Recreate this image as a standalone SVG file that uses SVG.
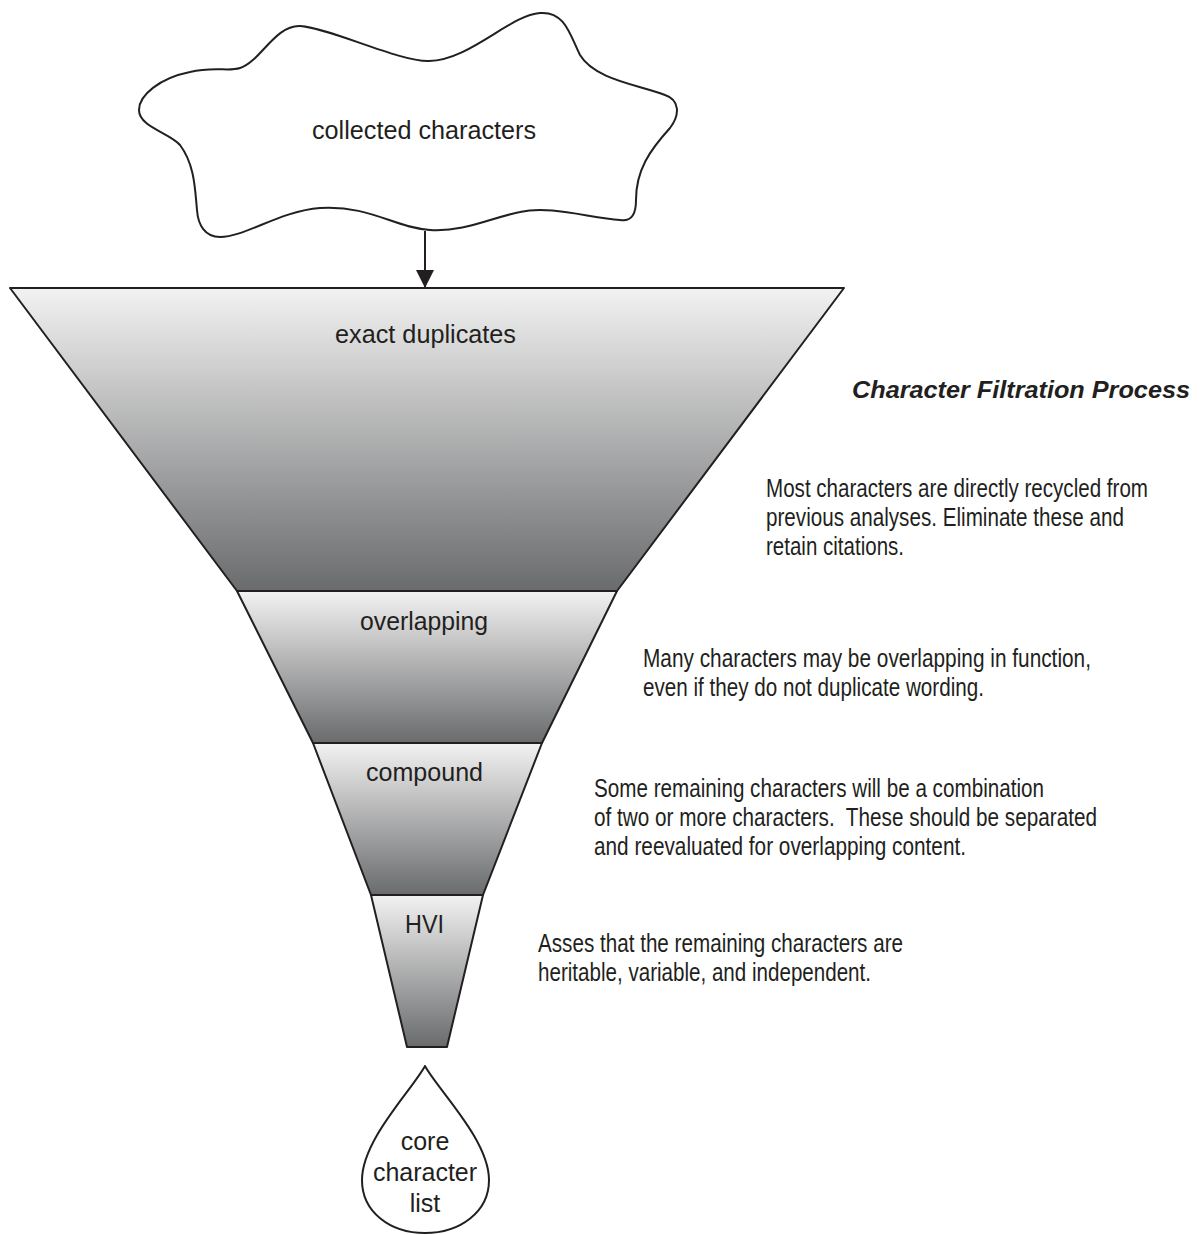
<svg xmlns="http://www.w3.org/2000/svg" width="1201" height="1235" viewBox="0 0 1201 1235">
  <style>
    .shape { stroke: #231f20; stroke-width: 2; stroke-linejoin: round; }
    .lbl { font-family: "Liberation Sans", Arial, sans-serif; font-size: 25px; fill: #231f20; text-anchor: middle; }
    .note { font-family: "Liberation Sans", Arial, sans-serif; font-size: 21px; fill: #231f20; }
    .title { font-family: "Liberation Sans", Arial, sans-serif; font-size: 24px; font-weight: bold; font-style: italic; fill: #231f20; }
  </style>
  <defs>
    <linearGradient id="g" x1="0" y1="0" x2="0" y2="1">
      <stop offset="0" stop-color="#f2f2f2"/>
      <stop offset="1" stop-color="#6a6b6d"/>
    </linearGradient>
    <marker id="arrow" markerUnits="userSpaceOnUse" markerWidth="18" markerHeight="18" refX="18" refY="9" orient="auto">
      <path d="M0,0 L18,9 L0,18 Z" fill="#231f20"/>
    </marker>
  </defs>
  <rect width="1201" height="1235" fill="#ffffff"/>

  <g id="cloud">
    <path class="shape" fill="#ffffff" d="M139,110 C139,95 160,78 190,72 C215,66 228,72 240,68 C260,62 275,25 300,26 C330,28 400,62 429,61 C470,60 510,15 540,13 C565,11 570,35 580,55 C595,80 640,85 665,95 C680,100 680,115 670,128 C650,150 636,170 636,200 C636,212 633,222 620,220 C590,218 550,205 520,212 C490,218 465,232 430,230 C395,228 370,205 320,208 C280,211 245,237 220,237 C205,237 198,225 197,210 C195,190 195,165 180,145 C170,133 139,127 139,110 Z"/>
    <text class="lbl" x="424" y="139" textLength="224" lengthAdjust="spacingAndGlyphs">collected characters</text>
  </g>

  <g id="connectors">
    <line x1="425" y1="231" x2="425" y2="288" stroke="#231f20" stroke-width="2" marker-end="url(#arrow)"/>
  </g>

  <g id="exact-duplicates">
    <polygon class="shape" fill="url(#g)" points="10,288 844,288 617,591 237,591"/>
    <text class="lbl" x="425.5" y="343" textLength="181" lengthAdjust="spacingAndGlyphs">exact duplicates</text>
  </g>
  <g id="overlapping">
    <polygon class="shape" fill="url(#g)" points="237,591 617,591 542,743 313,743"/>
    <text class="lbl" x="424" y="630" textLength="128" lengthAdjust="spacingAndGlyphs">overlapping</text>
  </g>
  <g id="compound">
    <polygon class="shape" fill="url(#g)" points="313,743 542,743 483,895 371,895"/>
    <text class="lbl" x="424.5" y="781" textLength="117" lengthAdjust="spacingAndGlyphs">compound</text>
  </g>
  <g id="hvi">
    <polygon class="shape" fill="url(#g)" points="371,895 483,895 447,1047 407,1047"/>
    <text class="lbl" x="424.5" y="933" textLength="39" lengthAdjust="spacingAndGlyphs">HVI</text>
  </g>

  <g id="core-character-list">
    <path class="shape" fill="#ffffff" d="M425,1066 C412,1090 362,1140 362,1180 C362,1212 390,1233 425,1233 C460,1233 489,1212 489,1180 C489,1140 438,1090 425,1066 Z"/>
    <text class="lbl" x="425" y="1150">core</text>
    <text class="lbl" x="425" y="1181">character</text>
    <text class="lbl" x="425" y="1212">list</text>
  </g>

  <g id="title">
    <text class="title" x="852" y="398" textLength="338" lengthAdjust="spacingAndGlyphs">Character Filtration Process</text>
  </g>

  <g id="note-exact">
    <text class="note" transform="translate(766 497) scale(1 1.19)" textLength="382" lengthAdjust="spacingAndGlyphs">Most characters are directly recycled from</text>
    <text class="note" transform="translate(766 526) scale(1 1.19)" textLength="358" lengthAdjust="spacingAndGlyphs">previous analyses. Eliminate these and</text>
    <text class="note" transform="translate(766 555) scale(1 1.19)" textLength="138" lengthAdjust="spacingAndGlyphs">retain citations.</text>
  </g>
  <g id="note-overlapping">
    <text class="note" transform="translate(643 667) scale(1 1.19)" textLength="448" lengthAdjust="spacingAndGlyphs">Many characters may be overlapping in function,</text>
    <text class="note" transform="translate(643 696) scale(1 1.19)" textLength="341" lengthAdjust="spacingAndGlyphs">even if they do not duplicate wording.</text>
  </g>
  <g id="note-compound">
    <text class="note" transform="translate(594 797) scale(1 1.19)" textLength="450" lengthAdjust="spacingAndGlyphs">Some remaining characters will be a combination</text>
    <text class="note" transform="translate(594 826) scale(1 1.19)" textLength="503" lengthAdjust="spacingAndGlyphs" xml:space="preserve">of two or more characters.  These should be separated</text>
    <text class="note" transform="translate(594 855) scale(1 1.19)" textLength="372" lengthAdjust="spacingAndGlyphs">and reevaluated for overlapping content.</text>
  </g>
  <g id="note-hvi">
    <text class="note" transform="translate(538 952) scale(1 1.19)" textLength="365" lengthAdjust="spacingAndGlyphs">Asses that the remaining characters are</text>
    <text class="note" transform="translate(538 981) scale(1 1.19)" textLength="333" lengthAdjust="spacingAndGlyphs">heritable, variable, and independent.</text>
  </g>
</svg>
